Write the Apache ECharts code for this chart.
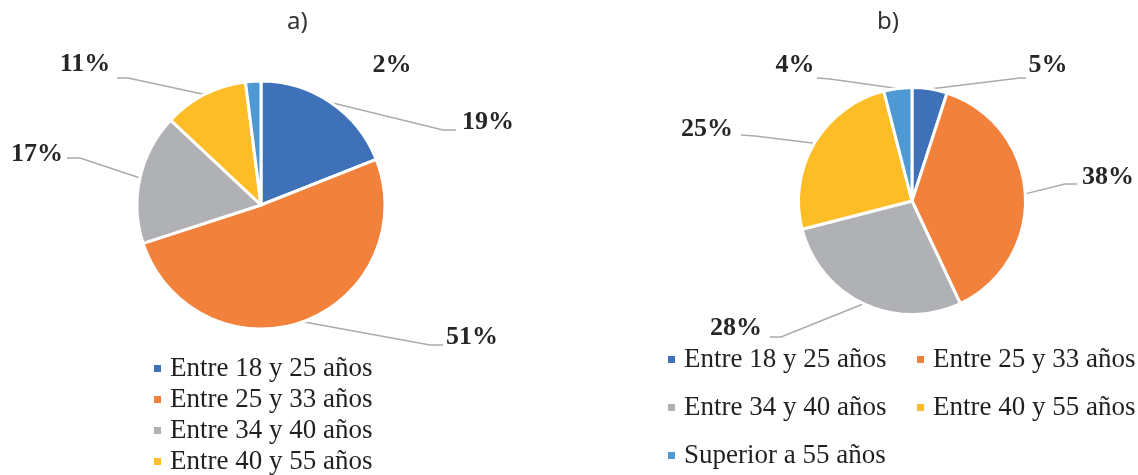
<!DOCTYPE html>
<html>
<head>
<meta charset="utf-8">
<script src="https://cdn.jsdelivr.net/npm/echarts@6/dist/echarts.min.js"></script>
<style>
html,body{margin:0;padding:0;background:#ffffff;}
#chart{width:1138px;height:475px;}
</style>
</head>
<body>
<div id="chart"></div>
<script>
// ---------- data ----------
const categories = ['Entre 18 y 25 años', 'Entre 25 y 33 años', 'Entre 34 y 40 años', 'Entre 40 y 55 años', 'Superior a 55 años'];
const valuesA = [19, 51, 17, 11, 2];
const valuesB = [5, 38, 28, 25, 4];
const titles = ['a)', 'b)'];

// ---------- styling / layout ----------
const colors = ['#3E71B8', '#F1813B', '#B0B1B4', '#FDBD27', '#4E98D3'];
const serifFont = '"Liberation Serif", "Times New Roman", serif';
const showLine = [[true, true, true, true, false], [true, true, true, true, true]];
// label centre + leader elbow/end (Excel-like manual label placement)
const labelPlacement = [
  [
    {x: 488, y: 122, elbow: [443, 130], end: [456, 130]},
    {x: 472, y: 337, elbow: [430, 345], end: [443, 345]},
    {x: 37,  y: 154, elbow: [80, 158],  end: [67, 158]},
    {x: 85,  y: 64,  elbow: [128, 78],  end: [117, 78]},
    {x: 392, y: 65}
  ],
  [
    {x: 1048, y: 65,  elbow: [1020, 78],  end: [1026, 78]},
    {x: 1108, y: 177, elbow: [1065, 184], end: [1077, 184]},
    {x: 736,  y: 328, elbow: [781, 337],  end: [770, 337]},
    {x: 707,  y: 129, elbow: [755, 136],  end: [741, 135]},
    {x: 795,  y: 65,  elbow: [830, 79],   end: [817, 78]}
  ]
];

function buildData(values, si) {
  return values.map(function (v, i) {
    return {name: categories[i], value: v, labelLine: {show: showLine[si][i]}};
  });
}

function makePie(values, si, center, radius) {
  return {
    type: 'pie',
    center: center,
    radius: radius,
    startAngle: 90,
    clockwise: true,
    avoidLabelOverlap: false,
    animation: false,
    itemStyle: {borderColor: '#ffffff', borderWidth: 3},
    emphasis: {scale: false},
    label: {
      show: true,
      position: 'outside',
      formatter: '{c}%',
      fontFamily: serifFont,
      fontWeight: 'bold',
      fontSize: 26,
      color: '#262626'
    },
    labelLine: {
      show: true,
      length: 20,
      length2: 10,
      lineStyle: {color: '#ABABAB', width: 1.5}
    },
    labelLayout: function (p) {
      const L = labelPlacement[p.seriesIndex][p.dataIndex];
      const out = {x: L.x, y: L.y, align: 'center', verticalAlign: 'middle'};
      if (L.elbow && p.labelLinePoints && p.labelLinePoints.length) {
        out.labelLinePoints = [p.labelLinePoints[0], L.elbow, L.end];
      }
      return out;
    },
    data: buildData(values, si)
  };
}

const legendText = {fontFamily: serifFont, fontSize: 27, color: '#231F20', padding: [0, 0, 0, 3]};
const titleText = {fontFamily: '"Noto Sans", "Open Sans", sans-serif', fontWeight: 'normal', fontSize: 24, color: '#333333', lineHeight: 24};

const option = {
  backgroundColor: '#ffffff',
  color: colors,
  animation: false,
  title: [
    {text: titles[0], left: 287, top: 10, padding: 0, textStyle: titleText},
    {text: titles[1], left: 877, top: 10, padding: 0, textStyle: titleText}
  ],
  legend: [
    {
      orient: 'vertical', left: 152, top: 355, padding: 0,
      itemWidth: 9, itemHeight: 9, itemGap: 4,
      icon: 'rect',
      selectedMode: false,
      data: categories.slice(0, 4),
      textStyle: Object.assign({lineHeight: 26.5}, legendText)
    },
    {
      orient: 'vertical', left: 666, top: 346, padding: 0,
      itemWidth: 9, itemHeight: 9, itemGap: 21,
      icon: 'rect',
      selectedMode: false,
      data: [categories[0], categories[2], categories[4]],
      textStyle: Object.assign({lineHeight: 26}, legendText)
    },
    {
      orient: 'vertical', left: 915, top: 346, padding: 0,
      itemWidth: 9, itemHeight: 9, itemGap: 21,
      icon: 'rect',
      selectedMode: false,
      data: [categories[1], categories[3]],
      textStyle: Object.assign({lineHeight: 26}, legendText)
    }
  ],
  series: [
    makePie(valuesA, 0, [261, 205], 124),
    makePie(valuesB, 1, [912, 201], 113.5)
  ]
};

const chart = echarts.init(document.getElementById('chart'), null, {renderer: 'canvas'});
chart.setOption(option);
</script>
</body>
</html>
